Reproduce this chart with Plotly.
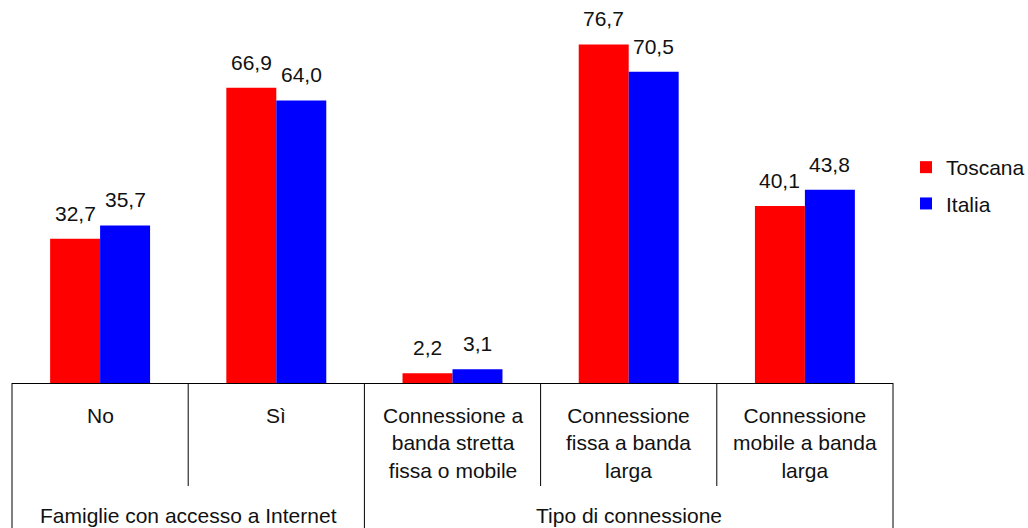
import plotly.graph_objects as go

# ---- data ----
categories = ["No", "Sì", "Connessione a<br>banda stretta<br>fissa o mobile",
              "Connessione<br>fissa a banda<br>larga", "Connessione<br>mobile a banda<br>larga"]
toscana = [32.7, 66.9, 2.2, 76.7, 40.1]
italia = [35.7, 64.0, 3.1, 70.5, 43.8]
series_names = ["Toscana", "Italia"]
groups = ["Famiglie con accesso a Internet", "Tipo di connessione"]
group_sizes = [2, 3]

# ---- style ----
FONT = "Liberation Sans, Arial, sans-serif"
FS = 21
RED = "#FF0000"
BLUE = "#0000FF"
W, H = 1028, 528
ML, MR, MT, MB = 12, 135, 10, 145
PLOT_H = H - MT - MB
BAR_W = 0.2836
BARGAP = 1 - 2 * BAR_W
YMAX = 84.5

n = len(categories)
xs = list(range(n))

def fmt(v):
    return f"{v:.1f}".replace(".", ",")

fig = go.Figure()
fig.add_trace(go.Bar(x=xs, y=toscana, name=series_names[0], marker_color=RED,
                     marker_line_width=0, legendgroup="a", hoverinfo="skip"))
fig.add_trace(go.Bar(x=xs, y=italia, name=series_names[1], marker_color=BLUE,
                     marker_line_width=0, legendgroup="b", hoverinfo="skip"))

annotations = []
for i in range(n):
    for vals, off in ((toscana, -BAR_W / 2), (italia, BAR_W / 2)):
        annotations.append(dict(x=xs[i] + off, y=vals[i], xref="x", yref="y",
                                text=fmt(vals[i]), showarrow=False,
                                yanchor="bottom", xanchor="center", yshift=12,
                                font=dict(family=FONT, size=FS, color="#111")))
    annotations.append(dict(x=xs[i], y=0, xref="x", yref="paper",
                            text=categories[i], showarrow=False,
                            yanchor="top", xanchor="center", yshift=-19,
                            font=dict(family=FONT, size=FS, color="#111")))

shapes = []
inner_px = 103
outer_px = MB
start = 0
boundaries = {0}
for gname, gs in zip(groups, group_sizes):
    center = start + (gs - 1) / 2
    annotations.append(dict(x=center, y=0, xref="x", yref="paper",
                            text=gname, showarrow=False,
                            yanchor="top", xanchor="center", yshift=-119,
                            font=dict(family=FONT, size=FS, color="#111")))
    start += gs
    boundaries.add(start)

for k in range(n + 1):
    depth = outer_px if k in boundaries else inner_px
    shapes.append(dict(type="line", xref="paper", yref="paper",
                       x0=k / n, x1=k / n, y0=0, y1=-depth / PLOT_H,
                       line=dict(color="#000", width=1)))

fig.update_layout(
    width=W, height=H,
    margin=dict(l=ML, r=MR, t=MT, b=MB),
    plot_bgcolor="white", paper_bgcolor="white",
    barmode="group", bargap=BARGAP, bargroupgap=0,
    xaxis=dict(range=[-0.5, n - 0.5], showticklabels=False, ticks="",
               showgrid=False, zeroline=False, showline=True,
               linecolor="#000", linewidth=1),
    yaxis=dict(range=[0, YMAX], visible=False, showgrid=False, zeroline=False),
    legend=dict(xref="container", yref="container", x=906 / W, y=1 - 147 / H,
                xanchor="left", yanchor="top", tracegroupgap=6,
                font=dict(family=FONT, size=FS, color="#111"),
                bgcolor="rgba(0,0,0,0)"),
    annotations=annotations,
    shapes=shapes,
    font=dict(family=FONT, size=FS, color="#111"),
)

fig.write_html("out.html", config={"displayModeBar": False},
               post_script="document.body.style.margin='0px';document.body.style.overflow='hidden';")
